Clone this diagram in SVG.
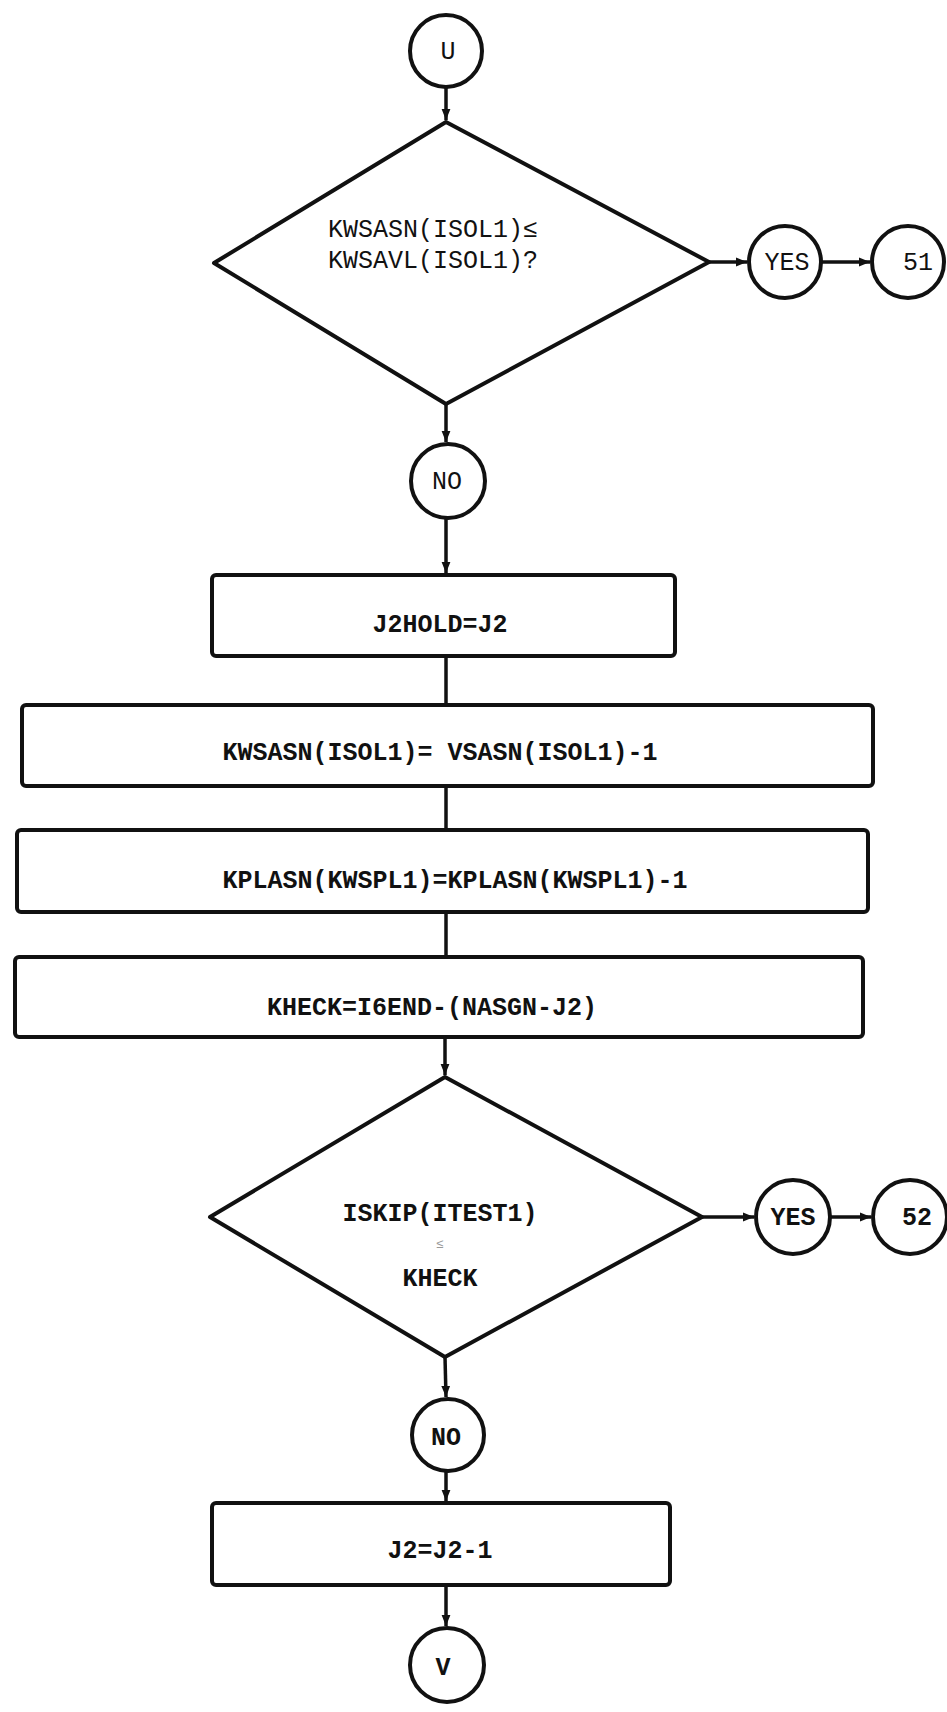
<svg xmlns="http://www.w3.org/2000/svg" width="947" height="1712" viewBox="0 0 947 1712">
<style>
.s{fill:none;stroke:#111;stroke-width:4;stroke-linejoin:round}
.c{fill:none;stroke:#111;stroke-width:3.5}
.t{font-family:"Liberation Mono","DejaVu Sans Mono",monospace;font-size:25px;fill:#111;text-anchor:middle}
.tn{font-weight:normal}
.tb{font-weight:bold}
</style>
<defs>
<marker id="ah" viewBox="0 0 10 10" refX="10" refY="5" markerWidth="11" markerHeight="11" markerUnits="userSpaceOnUse" orient="auto">
<path d="M0,1 L10,5 L0,9 z" fill="#111"/>
</marker>
</defs>
<rect width="947" height="1712" fill="#fff"/>
<g id="connectors">
<line class="c" x1="446" y1="88" x2="446" y2="120" marker-end="url(#ah)"/>
<line class="c" x1="709" y1="262" x2="747" y2="262" marker-end="url(#ah)"/>
<line class="c" x1="822" y1="262" x2="870" y2="262" marker-end="url(#ah)"/>
<line class="c" x1="446" y1="404" x2="446" y2="442" marker-end="url(#ah)"/>
<line class="c" x1="446" y1="518" x2="446" y2="573" marker-end="url(#ah)"/>
<line class="c" x1="446" y1="656" x2="446" y2="705"/>
<line class="c" x1="446" y1="786" x2="446" y2="830"/>
<line class="c" x1="446" y1="912" x2="446" y2="957"/>
<line class="c" x1="445" y1="1037" x2="445" y2="1075" marker-end="url(#ah)"/>
<line class="c" x1="702" y1="1217" x2="754" y2="1217" marker-end="url(#ah)"/>
<line class="c" x1="830" y1="1217" x2="871" y2="1217" marker-end="url(#ah)"/>
<line class="c" x1="445" y1="1357" x2="446" y2="1397" marker-end="url(#ah)"/>
<line class="c" x1="446" y1="1472" x2="446" y2="1501" marker-end="url(#ah)"/>
<line class="c" x1="446" y1="1585" x2="446" y2="1626" marker-end="url(#ah)"/>
</g>
<g id="n-u"><circle class="s" cx="446" cy="51" r="36"/><text class="t tn" x="448" y="59">U</text></g>
<g id="n-d1"><polygon class="s" points="446,122 709,262 446,404 214,263"/>
<text class="t tn" x="328" y="237" style="text-anchor:start">KWSASN(ISOL1)≤</text>
<text class="t tn" x="328" y="268" style="text-anchor:start">KWSAVL(ISOL1)?</text></g>
<g id="n-yes1"><circle class="s" cx="785" cy="262" r="36"/><text class="t tn" x="787" y="270">YES</text></g>
<g id="n-51"><circle class="s" cx="908" cy="262" r="36"/><text class="t tn" x="918" y="270">51</text></g>
<g id="n-no1"><circle class="s" cx="448" cy="481" r="37"/><text class="t tn" x="447" y="489">NO</text></g>
<g id="n-r1"><rect class="s" x="212" y="575" width="463" height="81" rx="4"/><text class="t tb" x="440" y="632">J2HOLD=J2</text></g>
<g id="n-r2"><rect class="s" x="22" y="705" width="851" height="81" rx="4"/><text class="t tb" x="440" y="760" textLength="435" lengthAdjust="spacingAndGlyphs">KWSASN(ISOL1)= VSASN(ISOL1)-1</text></g>
<g id="n-r3"><rect class="s" x="17" y="830" width="851" height="82" rx="4"/><text class="t tb" x="455" y="888">KPLASN(KWSPL1)=KPLASN(KWSPL1)-1</text></g>
<g id="n-r4"><rect class="s" x="15" y="957" width="848" height="80" rx="4"/><text class="t tb" x="432" y="1015">KHECK=I6END-(NASGN-J2)</text></g>
<g id="n-d2"><polygon class="s" points="445,1077 702,1217 445,1357 210,1217"/>
<text class="t tb" x="440" y="1221">ISKIP(ITEST1)</text>
<text class="t tn" x="440" y="1248" style="font-size:13px;fill:#999">≤</text>
<text class="t tb" x="440" y="1286">KHECK</text></g>
<g id="n-yes2"><circle class="s" cx="793" cy="1217" r="37"/><text class="t tb" x="793" y="1225">YES</text></g>
<g id="n-52"><circle class="s" cx="910" cy="1217" r="37"/><text class="t tb" x="917" y="1225">52</text></g>
<g id="n-no2"><circle class="s" cx="448" cy="1435" r="36"/><text class="t tb" x="446" y="1445">NO</text></g>
<g id="n-r5"><rect class="s" x="212" y="1503" width="458" height="82" rx="4"/><text class="t tb" x="440" y="1558">J2=J2-1</text></g>
<g id="n-v"><circle class="s" cx="447" cy="1665" r="37"/><text class="t tb" x="443" y="1675">V</text></g>
</svg>
